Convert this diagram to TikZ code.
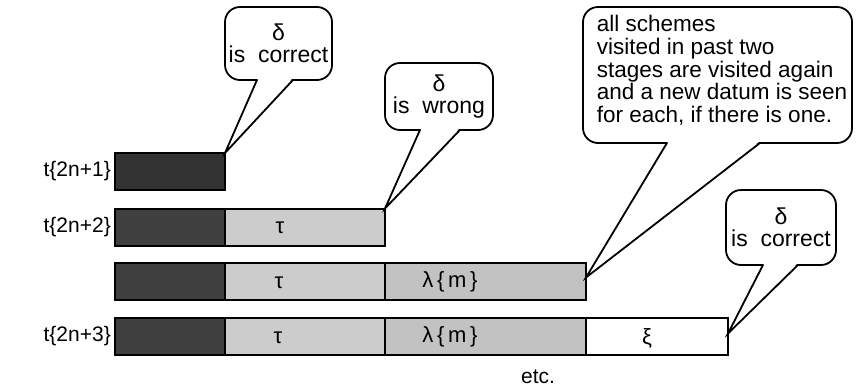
\documentclass[tikz,border=0pt]{standalone}
\usepackage{fontspec}
\setmainfont{Liberation Sans}
\usetikzlibrary{calc}
\definecolor{segdark}{gray}{0.25}
\definecolor{seglight}{gray}{0.8}
\definecolor{segmid}{gray}{0.76}
\begin{document}
\begin{tikzpicture}[x=1pt,y=-1pt,
  font=\fontsize{21}{22}\selectfont,
  seg/.style={draw=black, line width=2pt, minimum height=37pt, inner sep=0pt, outer sep=0pt},
  bubble/.style={draw=black, line width=1.8pt, fill=white, rounded corners=15pt, inner sep=0pt, align=center,
    font=\fontsize{23}{21.5}\selectfont},
  tail/.style={draw=black, line width=1.8pt, line join=miter},
  rowlabel/.style={anchor=east, inner sep=0pt},
  segtext/.style={inner sep=0pt, font=\fontsize{22}{22}\selectfont}]
\useasboundingbox (0,0) rectangle (861,389);
% row 1
\node[seg, fill=segdark!80!black, minimum width=110pt] (r1a) at (170,171.5) {};
% row 2
\node[seg, fill=segdark, minimum width=110pt] (r2a) at (170,227) {};
\node[seg, fill=seglight, minimum width=160pt] (r2b) at (305,227) {};
% row 3
\node[seg, fill=segdark, minimum width=110pt] (r3a) at (170,281.5) {};
\node[seg, fill=seglight, minimum width=160pt] (r3b) at (305,281.5) {};
\node[seg, fill=segmid, minimum width=201pt] (r3c) at (485.5,281.5) {};
% row 4
\node[seg, fill=segdark, minimum width=110pt] (r4a) at (170,336.5) {};
\node[seg, fill=seglight, minimum width=160pt] (r4b) at (305,336.5) {};
\node[seg, fill=segmid, minimum width=201pt] (r4c) at (485.5,336.5) {};
\node[seg, fill=white, minimum width=142pt] (r4d) at (657,336.5) {};
% segment texts
\node[segtext] (t2) at (280,228) {τ};
\node[segtext] (t3) at (279,283) {τ};
\node[segtext] (t4) at (278,338) {τ};
\node[segtext] (l3) at (450,281.5) {λ\,\{\,m\,\}};
\node[segtext] (l4) at (450,336.5) {λ\,\{\,m\,\}};
\node[segtext] (x4) at (647,338) {ξ};
% row labels
\node[rowlabel] (lab1) at (111,171.5) {t\{2n+1\}};
\node[rowlabel] (lab2) at (111,227) {t\{2n+2\}};
\node[rowlabel] (lab4) at (111,336.5) {t\{2n+3\}};
\node (etc) at (538,377) {etc.};
% bubbles
\node[bubble, minimum width=107pt, minimum height=73pt] (b1) at (278.5,43.5) {δ\\is\ \ correct};
\node[bubble, minimum width=108pt, minimum height=67pt] (b2) at (439,96.5) {δ\\is\ \ wrong};
\node[bubble, minimum width=269pt, minimum height=136pt, font=\fontsize{22.5}{21.5}\selectfont] (b3) at (717.5,75)
  {\begin{tabular}{@{\hspace{9pt}}l@{}}all schemes\\visited in past two\\stages are visited again\\and a new datum is seen\\for each, if there is one.\rule[-12pt]{0pt}{12pt}\end{tabular}};
\node[bubble, minimum width=110pt, minimum height=75pt] (b4) at (781,227.5) {δ\\is\ \ correct};
% tails
\coordinate (tip3) at ($(r3c.east)+(0,-4)$);
\coordinate (tip4) at ($(r4d.east)+(0,-3)$);
\fill[white] ($(b1.south)+(-20.5,-2)$) -- (r1a.north east) -- ($(b1.south)+(13.5,-2)$) -- cycle;
\draw[tail] ($(b1.south)+(-21.5,-1)$) -- (r1a.north east) -- ($(b1.south)+(14.5,-1)$);
\fill[white] ($(b2.south)+(-18,-2)$) -- (r2b.north east) -- ($(b2.south)+(20,-2)$) -- cycle;
\draw[tail] ($(b2.south)+(-19,-1)$) -- (r2b.north east) -- ($(b2.south)+(21,-1)$);
\fill[white] ($(b3.south)+(-49.5,-2)$) -- (tip3) -- ($(b3.south)+(41.5,-2)$) -- cycle;
\draw[tail] ($(b3.south)+(-50.5,-1)$) -- (tip3) -- ($(b3.south)+(42.5,-1)$);
\fill[white] ($(b4.south)+(-17,-2)$) -- (tip4) -- ($(b4.south)+(16,-2)$) -- cycle;
\draw[tail] ($(b4.south)+(-18,-1)$) -- (tip4) -- ($(b4.south)+(17,-1)$);
\end{tikzpicture}
\end{document}
